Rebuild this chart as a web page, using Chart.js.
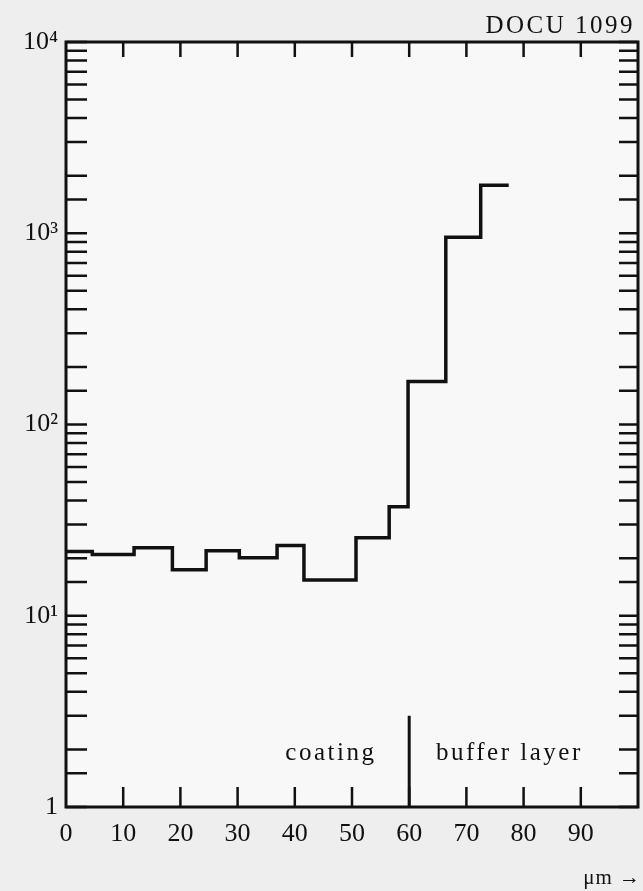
<!DOCTYPE html>
<html>
<head>
<meta charset="utf-8">
<script src="https://cdn.jsdelivr.net/npm/chart.js@4"></script>
<style>
  body { margin: 0; background: #eeeeee; }
  #wrap { width: 643px; height: 891px; position: relative; }
</style>
</head>
<body>
<div id="wrap"><canvas id="depthChart"></canvas></div>
<script>
// bin edges (um) and counts per bin
const binEdges = [0, 4.6, 11.9, 18.6, 24.5, 30.3, 36.9, 41.6, 50.7, 56.5, 59.8, 66.4, 72.5, 77.4];
const binCounts = [21.7, 20.9, 22.7, 17.4, 21.9, 20.1, 23.3, 15.4, 25.6, 37.2, 168, 953, 1784];

const decades = [1, 10, 100, 1000, 10000];
const decadeLabels = ['1', '10\u00b9', '10\u00b2', '10\u00b3', '10\u2074'];
const minorSteps = [1.5, 2, 3, 4, 5, 6, 7, 8, 9];
const xTicks = [0, 10, 20, 30, 40, 50, 60, 70, 80, 90];

const boundaryX = 60;
const boundaryTop = 3;

const serif = '"Liberation Serif", "DejaVu Serif", serif';

// step points: each bin starts at its left edge, last point closes the final bin
const stepPoints = binCounts.map((c, i) => ({ x: binEdges[i], y: c }));
stepPoints.push({ x: binEdges[binEdges.length - 1], y: binCounts[binCounts.length - 1] });

const yTickValues = [];
decades.forEach((d, i) => {
    yTickValues.push(d);
    if (i < decades.length - 1) minorSteps.forEach(m => yTickValues.push(d * m));
});

const framePlugin = {
    id: 'frame',
    beforeDraw(chart) {
        const { ctx, chartArea: a } = chart;
        ctx.save();
        ctx.fillStyle = '#eeeeee';
        ctx.fillRect(0, 0, chart.width, chart.height);
        ctx.fillStyle = '#f8f8f8';
        ctx.fillRect(a.left, a.top, a.right - a.left, a.bottom - a.top);
        ctx.restore();
    },
    afterDatasetsDraw(chart) {
        const { ctx, chartArea: a, scales } = chart;
        ctx.save();
        ctx.strokeStyle = '#111';
        ctx.lineWidth = 3;
        ctx.strokeRect(a.left, a.top, a.right - a.left, a.bottom - a.top);

        // inward ticks on left and right
        ctx.lineWidth = 2.5;
        yTickValues.forEach(v => {
            const y = scales.y.getPixelForValue(v);
            ctx.beginPath();
            ctx.moveTo(a.left, y); ctx.lineTo(a.left + 21, y);
            ctx.moveTo(a.right, y); ctx.lineTo(a.right - 19, y);
            ctx.stroke();
        });
        // inward ticks on bottom and top
        xTicks.forEach(v => {
            if (v === 0) return;
            const x = scales.x.getPixelForValue(v);
            ctx.beginPath();
            ctx.moveTo(x, a.bottom); ctx.lineTo(x, a.bottom - 20);
            ctx.moveTo(x, a.top); ctx.lineTo(x, a.top + 15);
            ctx.stroke();
        });

        // region labels
        ctx.fillStyle = '#111';
        ctx.textBaseline = 'middle';
        ctx.textAlign = 'center';
        ctx.font = '25px ' + serif;
        ctx.letterSpacing = '2.5px';
        const ly = scales.y.getPixelForValue(1.9);
        ctx.fillText('coating', scales.x.getPixelForValue(46.3), ly);
        ctx.fillText('buffer layer', scales.x.getPixelForValue(77.5), ly);

        ctx.textAlign = 'right';
        ctx.fillText('DOCU 1099', 635, 26);
        ctx.letterSpacing = '1px';
        ctx.font = '21px ' + serif;
        ctx.fillText('\u03bcm \u2192', 641, 878);
        ctx.restore();
    }
};

new Chart(document.getElementById('depthChart').getContext('2d'), {
    type: 'line',
    data: {
        datasets: [{
            data: stepPoints,
            stepped: true,
            borderColor: '#111',
            borderWidth: 3.5,
            pointRadius: 0,
            fill: false
        }, {
            data: [{ x: boundaryX, y: 1 }, { x: boundaryX, y: boundaryTop }],
            borderColor: '#111',
            borderWidth: 3,
            pointRadius: 0,
            fill: false
        }]
    },
    options: {
        responsive: true,
        maintainAspectRatio: false,
        animation: false,
        layout: { padding: { top: 42, right: 5, left: 0, bottom: 0 } },
        scales: {
            x: {
                type: 'linear',
                min: 0,
                max: 100,
                grid: { display: false, drawTicks: false },
                border: { display: false },
                afterFit: s => { s.height = 84; s.paddingLeft = 0; s.paddingRight = 0; },
                ticks: {
                    stepSize: 10,
                    padding: 12,
                    maxRotation: 0,
                    color: '#111',
                    font: { family: serif, size: 26 },
                    callback: v => xTicks.includes(v) ? String(v) : ''
                }
            },
            y: {
                type: 'logarithmic',
                min: 1,
                max: 10000,
                grid: { display: false, drawTicks: false },
                border: { display: false },
                afterFit: s => { s.width = 66; s.paddingTop = 0; s.paddingBottom = 0; },
                afterBuildTicks: s => { s.ticks = yTickValues.map(v => ({ value: v })); },
                ticks: {
                    autoSkip: false,
                    padding: 8,
                    color: '#111',
                    font: { family: serif, size: 26 },
                    callback: v => {
                        const i = decades.indexOf(v);
                        return i >= 0 ? decadeLabels[i] : '';
                    }
                }
            }
        },
        plugins: {
            legend: { display: false },
            tooltip: { enabled: false }
        }
    },
    plugins: [framePlugin]
});
</script>
</body>
</html>
